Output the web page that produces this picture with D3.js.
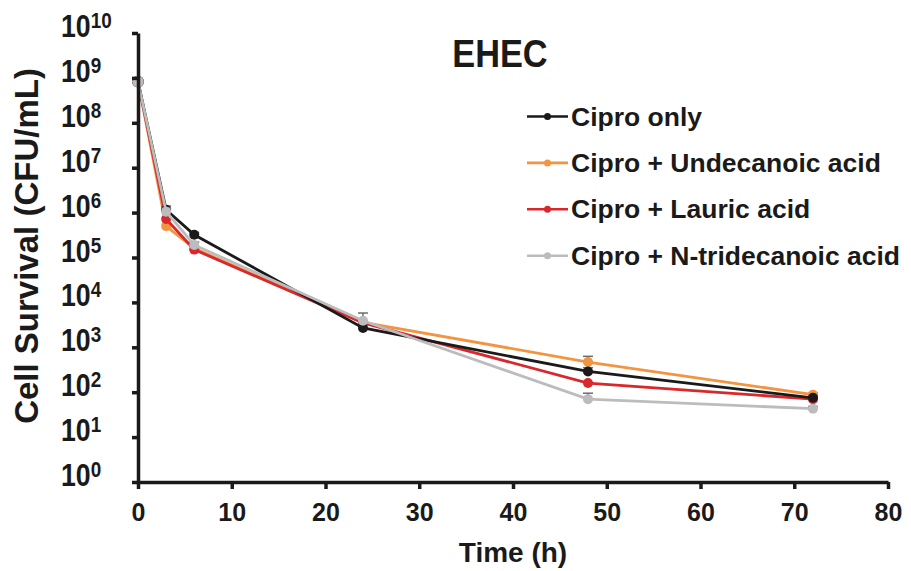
<!DOCTYPE html>
<html lang="en">
<head>
  <meta charset="utf-8">
  <title>EHEC cell survival</title>
  <script src="https://d3js.org/d3.v7.min.js"></script>
  <style>
    body { margin: 0; background: #ffffff; font-family: "Liberation Sans", Arial, Helvetica, sans-serif; }
    svg text { font-weight: bold; fill: #1a1a1a; font-family: "Liberation Sans", Arial, Helvetica, sans-serif; }
    .axis path, .axis line { stroke: #1a1a1a; stroke-width: 3.5px; }
    .series { fill: none; stroke-width: 2.8px; }
  </style>
</head>
<body>
<script>
// time points (h)
var times = [0, 3, 6, 24, 48, 72];

var seriesNames = ["Cipro only", "Cipro + Undecanoic acid", "Cipro + Lauric acid", "Cipro + N-tridecanoic acid"];
var seriesColors = ["#1a1a1a", "#f39440", "#d8282b", "#bcbcbe"];

// CFU/mL
var ciproOnly   = [8.3e8, 1.15e6, 3.2e5, 2.7e3, 2.9e2, 75];
var undecanoic  = [8.3e8, 5.0e5, 1.6e5, 3.6e3, 4.7e2, 88];
var lauric      = [8.3e8, 7.2e5, 1.5e5, 3.5e3, 1.6e2, 70];
var tridecanoic = [8.3e8, 1.05e6, 1.9e5, 3.9e3, 70, 43];

// upper error (CFU/mL), null = no visible bar
var ciproOnlyErr   = [null, 1.4e6, 3.6e5, null, 3.5e2, 82];
var undecanoicErr  = [null, null, null, null, 6.3e2, 95];
var lauricErr      = [null, null, null, null, null, 76];
var tridecanoicErr = [null, 1.25e6, 2.2e5, 5.8e3, 95, 48];

var xTicks = [0, 10, 20, 30, 40, 50, 60, 70, 80];
var yExponents = [0, 1, 2, 3, 4, 5, 6, 7, 8, 9, 10];

var allValues = [ciproOnly, undecanoic, lauric, tridecanoic];
var allErrs = [ciproOnlyErr, undecanoicErr, lauricErr, tridecanoicErr];

var width = 911, height = 571;
var margin = { left: 138, right: 23, top: 33, bottom: 89 };

var svg = d3.select("body").append("svg")
    .attr("width", width)
    .attr("height", height);

var x = d3.scaleLinear().domain([0, 80]).range([margin.left, width - margin.right]);
var y = d3.scaleLog().domain([1, 1e10]).range([height - margin.bottom, margin.top]);

// text helper: horizontal squeeze/stretch around the anchor point
function scaledText(sel, px, py, sx) {
  return sel.append("text")
      .attr("transform", "translate(" + px + "," + py + ") scale(" + sx + ",1)");
}

// lines
var line = d3.line()
    .x(function(d, i) { return x(times[i]); })
    .y(function(d) { return y(d); });

// draw order: orange, red, black, gray on top
var drawOrder = [1, 2, 0, 3];

drawOrder.forEach(function(s) {
  var g = svg.append("g");
  allErrs[s].forEach(function(e, i) {
    if (e === null) return;
    var cx = x(times[i]);
    g.append("line")
        .attr("x1", cx).attr("x2", cx)
        .attr("y1", y(allValues[s][i])).attr("y2", y(e))
        .attr("stroke", "#6d6d6d").attr("stroke-width", 1.5);
    g.append("line")
        .attr("x1", cx - 5).attr("x2", cx + 5)
        .attr("y1", y(e)).attr("y2", y(e))
        .attr("stroke", "#6d6d6d").attr("stroke-width", 1.5);
  });
  g.append("path")
      .datum(allValues[s])
      .attr("class", "series")
      .attr("stroke", seriesColors[s])
      .attr("d", line);
  g.selectAll("circle")
      .data(allValues[s])
      .enter().append("circle")
      .attr("cx", function(d, i) { return x(times[i]); })
      .attr("cy", function(d) { return y(d); })
      .attr("r", function(d, i) { return i === 0 ? 5.8 : 5; })
      .attr("fill", seriesColors[s]);
});

// x axis
var xAxis = svg.append("g")
    .attr("class", "axis")
    .attr("transform", "translate(0," + y(1) + ")")
    .call(d3.axisBottom(x).tickValues(xTicks).tickSize(7).tickSizeOuter(0).tickPadding(14));
xAxis.selectAll("text")
    .style("font-size", "25px")
    .attr("fill", "#1a1a1a");

// y axis
svg.append("g")
    .attr("class", "axis")
    .attr("transform", "translate(" + x(0) + ",0)")
    .call(d3.axisLeft(y).tickValues(yExponents.map(function(e) { return Math.pow(10, e); }))
      .tickSize(6).tickSizeOuter(0).tickFormat(""));

yExponents.forEach(function(e) {
  var t = scaledText(svg, 61, y(Math.pow(10, e)) + 4, 0.86)
      .attr("text-anchor", "start")
      .style("font-size", "31px");
  t.append("tspan").text("10");
  t.append("tspan")
      .attr("dy", -9)
      .style("font-size", "22px")
      .text(e);
});

// axis titles
svg.append("text")
    .attr("transform", "translate(38," + 246 + ") rotate(-90)")
    .attr("text-anchor", "middle")
    .style("font-size", "33px")
    .text("Cell Survival (CFU/mL)");

svg.append("text")
    .attr("x", (x(0) + x(80)) / 2)
    .attr("y", 562)
    .attr("text-anchor", "middle")
    .style("font-size", "28px")
    .text("Time (h)");

// title
scaledText(svg, 500, 67, 0.88)
    .attr("text-anchor", "middle")
    .style("font-size", "39px")
    .text("EHEC");

// legend
var legend = svg.append("g").attr("transform", "translate(527,116.5)");
seriesNames.forEach(function(name, i) {
  var row = legend.append("g").attr("transform", "translate(0," + (i * 46.4) + ")");
  row.append("line")
      .attr("x1", 0).attr("x2", 41)
      .attr("stroke", seriesColors[i]).attr("stroke-width", 2.6);
  row.append("circle")
      .attr("cx", 20.5).attr("r", 3.5)
      .attr("fill", seriesColors[i]);
  scaledText(row, 44, 9, 1.06)
      .style("font-size", "25px")
      .text(name);
});
</script>
</body>
</html>
